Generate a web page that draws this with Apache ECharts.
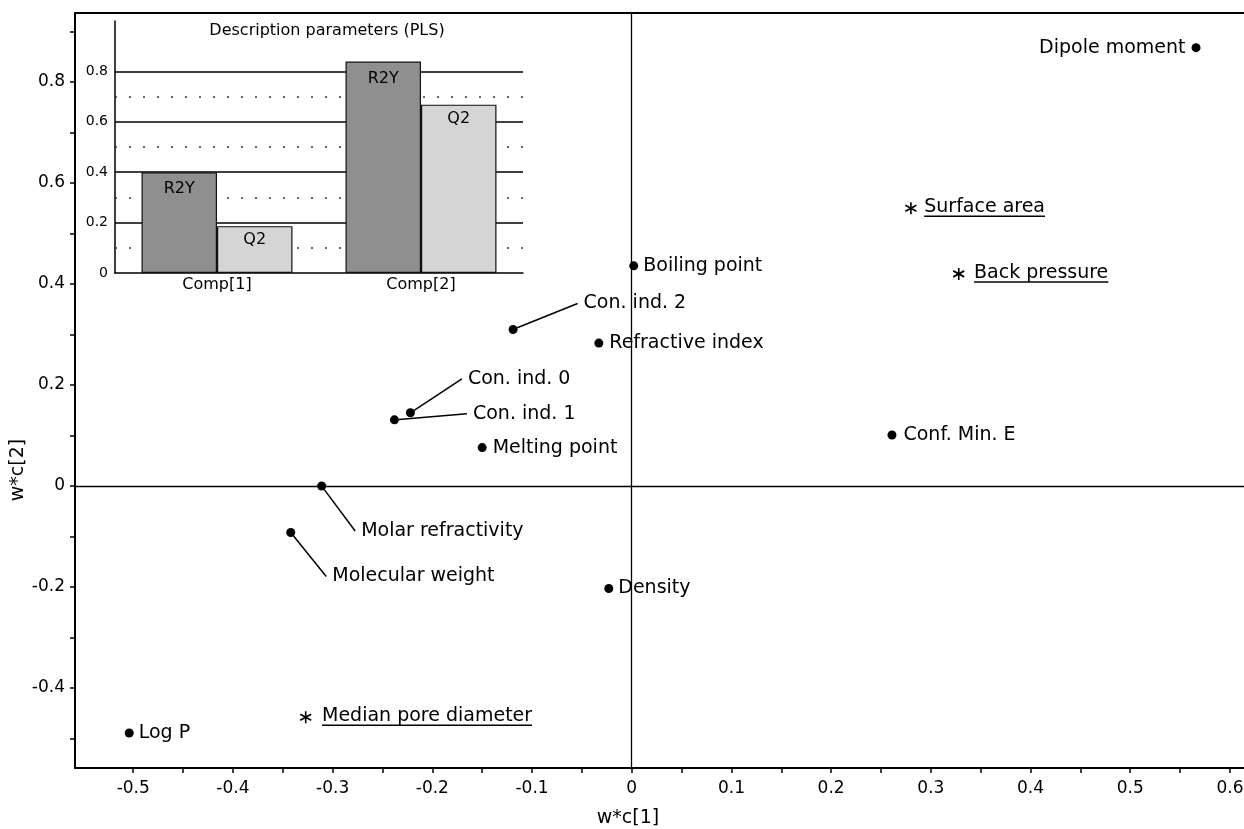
<!DOCTYPE html>
<html>
<head>
<meta charset="utf-8">
<title>PLS loadings</title>
<script src="https://cdn.jsdelivr.net/npm/echarts@6/dist/echarts.min.js"></script>
<style>
  html, body { margin: 0; background: #fff; }
  #chart { width: 1244px; height: 829px; }
</style>
</head>
<body>
<div id="chart"></div>
<script>
// loadings w*c[1] / w*c[2]
const dotNames = ['Dipole moment', 'Boiling point', 'Con. ind. 2', 'Refractive index', 'Con. ind. 0',
  'Con. ind. 1', 'Melting point', 'Conf. Min. E', 'Molar refractivity', 'Molecular weight', 'Density', 'Log P'];
const dotX = [0.566, 0.002, -0.119, -0.033, -0.222, -0.238, -0.150, 0.261, -0.311, -0.342, -0.023, -0.504];
const dotY = [0.868, 0.436, 0.310, 0.283, 0.145, 0.131, 0.076, 0.101, 0.000, -0.092, -0.203, -0.489];

// responses (asterisks, underlined)
const starNames = ['Surface area', 'Back pressure', 'Median pore diameter'];
const starX = [0.280, 0.328, -0.327];
const starY = [0.550, 0.420, -0.458];

const xTicks = [-0.5, -0.45, -0.4, -0.35, -0.3, -0.25, -0.2, -0.15, -0.1, -0.05, 0, 0.05, 0.1,
  0.15, 0.2, 0.25, 0.3, 0.35, 0.4, 0.45, 0.5, 0.55, 0.6];
const xLabels = [-0.5, -0.4, -0.3, -0.2, -0.1, 0, 0.1, 0.2, 0.3, 0.4, 0.5, 0.6];
const yTicks = [-0.5, -0.4, -0.3, -0.2, -0.1, 0, 0.1, 0.2, 0.3, 0.4, 0.5, 0.6, 0.7, 0.8, 0.9];
const yLabels = [-0.4, -0.2, 0, 0.2, 0.4, 0.6, 0.8];

// inset: description parameters
const compNames = ['Comp[1]', 'Comp[2]'];
const r2y = [0.400, 0.839];
const q2 = [0.186, 0.668];
const insetLabels = [0, 0.2, 0.4, 0.6, 0.8];
const insetMinor = [0.1, 0.3, 0.5, 0.7];

const myChart = echarts.init(document.getElementById('chart'));
const font = 'DejaVu Sans';
const xMin = -0.5584, xMax = 0.6141;

// label placement next to each dot
const labelPlace = {
  'Dipole moment': { position: 'left', distance: 6 },
  'Boiling point': { position: 'right', distance: 5 },
  'Refractive index': { position: 'right', distance: 6 },
  'Melting point': { position: 'right', distance: 6 },
  'Conf. Min. E': { position: 'right', distance: 7 },
  'Density': { position: 'right', distance: 5 },
  'Log P': { position: 'right', distance: 5 }
};
// labels pushed away and joined with a leader line, [dx, dy] px
const leader = {
  'Con. ind. 2': [60, -26],
  'Con. ind. 0': [47, -34],
  'Con. ind. 1': [68, -6],
  'Molar refractivity': [29, 45],
  'Molecular weight': [31, 44]
};
const starDist = [7, 9, 10];

const dotData = dotNames.map(function (name, i) {
  const item = { name: name, value: [dotX[i], dotY[i]] };
  if (leader[name]) {
    item.label = { position: 'right', distance: 0, padding: [0, 0, 0, 6], backgroundColor: 'rgba(255,255,255,0)' };
    item.labelLine = { show: true };
  } else {
    item.label = labelPlace[name];
  }
  return item;
});

const starData = starNames.map(function (name, i) {
  return { name: name, value: [starX[i], starY[i]], label: { distance: starDist[i] } };
});

let option = {
  animation: false,
  grid: [
    { left: 75, top: 13, right: 0, bottom: 61, outerBoundsMode: 'none' },
    { left: 115, top: 21, width: 408, height: 252, outerBoundsMode: 'none' }
  ],
  xAxis: [
    {
      type: 'value', gridIndex: 0, min: xMin, max: xMax,
      splitLine: { show: false },
      axisLine: { onZero: false, lineStyle: { color: '#000', width: 2 } },
      axisTick: { customValues: xTicks, length: 5, lineStyle: { color: '#000', width: 1.5 } },
      axisLabel: { customValues: xLabels, color: '#000', fontFamily: font, fontSize: 17, margin: 12 }
    },
    {
      type: 'category', gridIndex: 1, data: compNames,
      axisLine: { lineStyle: { color: '#000', width: 1.5 } },
      axisTick: { show: false },
      axisLabel: { color: '#000', fontFamily: font, fontSize: 16, margin: 4 }
    },
    {
      // top frame line only
      type: 'value', gridIndex: 0, position: 'top', min: xMin, max: xMax,
      splitLine: { show: false },
      axisLine: { onZero: false, lineStyle: { color: '#000', width: 2.2 } },
      axisTick: { show: false },
      axisLabel: { show: false }
    }
  ],
  yAxis: [
    {
      type: 'value', gridIndex: 0, min: -0.5584, max: 0.9366,
      splitLine: { show: false },
      axisLine: { onZero: false, lineStyle: { color: '#000', width: 2 } },
      axisTick: { customValues: yTicks, length: 5, lineStyle: { color: '#000', width: 1.5 } },
      axisLabel: { customValues: yLabels, color: '#000', fontFamily: font, fontSize: 17, margin: 10 }
    },
    {
      type: 'value', gridIndex: 1, min: 0, max: 1, interval: 0.2,
      axisLine: { show: true, lineStyle: { color: '#000', width: 1.5 } },
      axisTick: { show: false },
      axisLabel: { customValues: insetLabels, color: '#000', fontFamily: font, fontSize: 14, margin: 7 },
      splitLine: { show: true, showMinLine: false, showMaxLine: false, lineStyle: { color: '#000', width: 1.5 } }
    }
  ],
  graphic: [
    {
      type: 'text', x: 628, y: 818,
      style: { text: 'w*c[1]', font: '19px "DejaVu Sans"', fill: '#000',
        align: 'center', verticalAlign: 'middle', textAlign: 'center', textVerticalAlign: 'middle' }
    },
    {
      type: 'text', x: 18, y: 470, rotation: Math.PI / 2,
      style: { text: 'w*c[2]', font: '19px "DejaVu Sans"', fill: '#000',
        align: 'center', verticalAlign: 'middle', textAlign: 'center', textVerticalAlign: 'middle' }
    },
    {
      type: 'text', x: 327, y: 31,
      style: { text: 'Description parameters (PLS)', font: '16px "DejaVu Sans"', fill: '#000',
        align: 'center', verticalAlign: 'middle', textAlign: 'center', textVerticalAlign: 'middle' }
    }
  ],
  series: [
    {
      type: 'scatter', xAxisIndex: 0, yAxisIndex: 0,
      symbol: 'circle', symbolSize: 9,
      itemStyle: { color: '#000', opacity: 1 },
      emphasis: { disabled: true },
      label: { show: true, formatter: '{b}', color: '#000', fontFamily: font, fontSize: 19 },
      labelLine: { show: false, length2: 0, lineStyle: { color: '#000', width: 1.5, opacity: 1 } },
      labelLayout: function (p) {
        const s = leader[dotNames[p.dataIndex]];
        return s ? { dx: s[0], dy: s[1] } : {};
      },
      data: dotData,
      markLine: {
        z: 1, silent: true, symbol: 'none',
        label: { show: false },
        lineStyle: { color: '#000', width: 1.3, type: 'solid' },
        data: [{ xAxis: 0 }, { yAxis: 0 }]
      }
    },
    {
      type: 'scatter', xAxisIndex: 0, yAxisIndex: 0,
      symbol: 'path://M0,-6L0,6M-5.2,-3L5.2,3M-5.2,3L5.2,-3',
      symbolSize: [11, 12],
      itemStyle: { color: '#000', borderColor: '#000', borderWidth: 1.7, opacity: 1 },
      emphasis: { disabled: true },
      label: {
        show: true, position: 'right',
        formatter: function (p) { return '{t|' + p.name + '}\n{u| }'; },
        rich: {
          t: { color: '#000', fontFamily: font, fontSize: 19, lineHeight: 16 },
          u: { width: '100%', height: 1.5, lineHeight: 2, fontSize: 1, backgroundColor: '#000' }
        }
      },
      data: starData
    },
    {
      type: 'bar', name: 'R2Y', xAxisIndex: 1, yAxisIndex: 1,
      data: r2y, barGap: '0%', barCategoryGap: '26%',
      itemStyle: { color: '#8f8f8f', borderColor: '#111', borderWidth: 1.2 },
      emphasis: { disabled: true },
      label: { show: true, position: 'insideTop', distance: 9, formatter: 'R2Y',
        color: '#000', fontFamily: font, fontSize: 16 },
      markLine: {
        z: 1, silent: true, symbol: 'none',
        label: { show: false },
        lineStyle: { color: '#333', width: 1.5, type: [2, 12] },
        data: insetMinor.map(function (v) { return { yAxis: v }; })
      }
    },
    {
      type: 'bar', name: 'Q2', xAxisIndex: 1, yAxisIndex: 1,
      data: q2,
      itemStyle: { color: '#d5d5d5', borderColor: '#111', borderWidth: 1.2 },
      emphasis: { disabled: true },
      label: { show: true, position: 'insideTop', distance: 6, formatter: 'Q2',
        color: '#000', fontFamily: font, fontSize: 16 }
    }
  ]
};

myChart.setOption(option);
</script>
</body>
</html>
